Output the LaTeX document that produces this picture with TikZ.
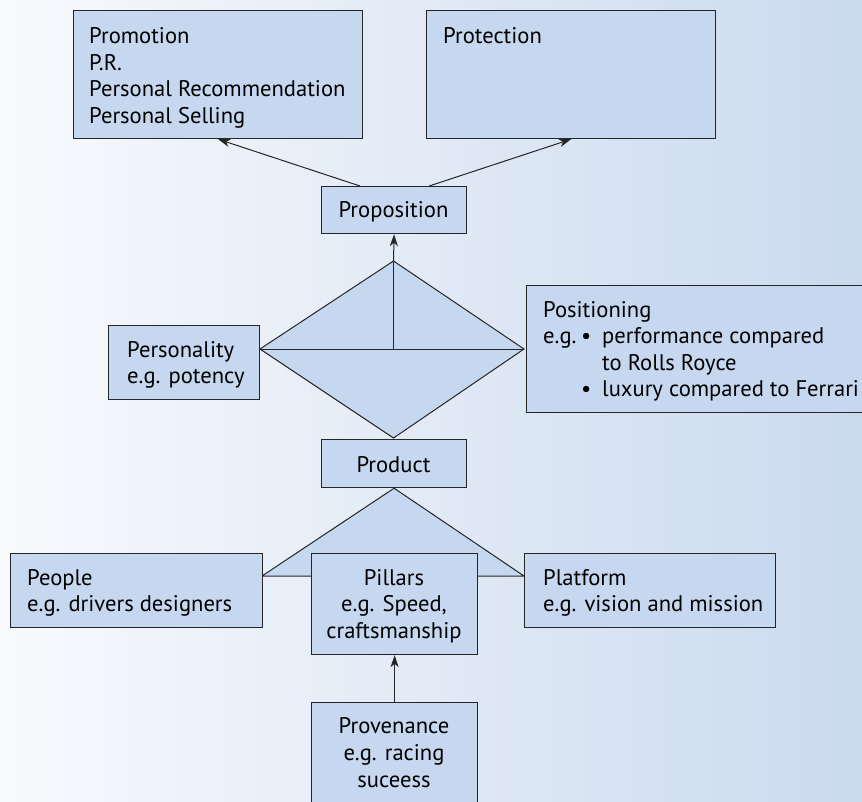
\documentclass[tikz,border=0pt]{standalone}
\usepackage{fontspec}
\setmainfont{PT Sans}
\usetikzlibrary{arrows.meta}
\definecolor{boxfill}{HTML}{C6D8EF}
\definecolor{bgleft}{HTML}{F8FAFD}
\definecolor{bgright}{HTML}{CADAEE}
\definecolor{edge}{HTML}{262626}
\begin{document}
\begin{tikzpicture}[x=1pt,y=-1pt,
  bx/.style={draw=edge, fill=boxfill, line width=1.2pt, inner sep=0pt, anchor=north west},
  tx/.style={inner sep=0pt, font=\fontsize{22.6}{27}\selectfont, text=black},
  lt/.style={tx, anchor=base west},
  ct/.style={tx, anchor=base},
  shape line/.style={draw=edge, line width=1pt, line join=miter},
  arr/.style={draw=edge, line width=1pt, -{Stealth[length=12pt,width=8pt,inset=3.5pt]}}]
\useasboundingbox (0,0) rectangle (862,801);
\clip (0,0) rectangle (862,801);
\shade[left color=bgleft, right color=bgright] (0,0) rectangle (862,801);

% boxes
\node[bx, minimum width=289pt, minimum height=128pt] (promo) at (73,10) {};
\node[bx, minimum width=289pt, minimum height=128pt] (protect) at (426,10) {};
\node[bx, minimum width=145pt, minimum height=47pt] (prop) at (321,186) {};
\node[bx, minimum width=151pt, minimum height=74pt] (person) at (108,325) {};
\node[bx, minimum width=345pt, minimum height=127pt] (posit) at (526,285) {};

% diamond
\coordinate (dtop) at (393.5,261);
\coordinate (dleft) at (260,349);
\coordinate (dright) at (524,349);
\coordinate (dbot) at (393.5,438);
\coordinate (dctr) at (393.5,349);
\fill[boxfill] (dtop) -- (dright) -- (dbot) -- (dleft) -- cycle;
\draw[shape line] (dtop) -- (dright) -- (dbot) -- (dleft) -- cycle;
\draw[shape line] (dleft) -- (dright);
\draw[shape line] (dtop) -- (dctr);

\node[bx, minimum width=145pt, minimum height=48pt] (product) at (321,439) {};

% triangle
\coordinate (tl) at (262,576);
\coordinate (tr) at (524,576);
\fill[boxfill] (product.south) -- (tr) -- (tl) -- cycle;
\draw[shape line] (product.south) -- (tr) -- (tl) -- cycle;

\node[bx, minimum width=252pt, minimum height=74pt] (people) at (10,553) {};
\node[bx, minimum width=166pt, minimum height=101pt] (pillars) at (311,553) {};
\node[bx, minimum width=251pt, minimum height=74pt] (platform) at (524,553) {};
\node[bx, minimum width=166pt, minimum height=110pt] (proven) at (311,702) {};

% arrows
\draw[arr] ([xshift=39pt]prop.north west) -- (promo.south);
\draw[arr] ([xshift=-38pt]prop.north east) -- (protect.south);
\draw[arr] (dtop) -- (prop.south);
\draw[arr] (proven.north) -- (pillars.south);

% texts
\node[lt] (t1) at (89,43) {Promotion};
\node[lt] (t2) at (89,70) {P.R.};
\node[lt] (t3) at (89,96.5) {Personal Recommendation};
\node[lt] (t4) at (89,123) {Personal Selling};
\node[lt] (t5) at (443,43) {Protection};
\node[ct] (t6) at (393.5,217) {Proposition};
\node[lt] (t7) at (127,357) {Personality};
\node[lt] (t8) at (127,383) {e.g. potency};
\node[lt] (t9) at (543,317) {Positioning};
\node[lt] (t10) at (543,343.5) {e.g.};
\node[lt] (t11) at (581,343.5) {•};
\node[lt] (t12) at (602,343.5) {performance compared};
\node[lt] (t13) at (602,370) {to Rolls Royce};
\node[lt] (t14) at (581,396.5) {•};
\node[lt] (t15) at (602,396.5) {luxury compared to Ferrari};
\node[ct] (t16) at (393.5,472) {Product};
\node[lt] (t17) at (27,585) {People};
\node[lt] (t18) at (27,611.5) {e.g. drivers designers};
\node[ct] (t19) at (394,585) {Pillars};
\node[ct] (t20) at (394,611.5) {e.g. Speed,};
\node[ct] (t21) at (394,638) {craftsmanship};
\node[lt] (t22) at (543,585) {Platform};
\node[lt] (t23) at (543,611.5) {e.g. vision and mission};
\node[ct] (t24) at (394,733) {Provenance};
\node[ct] (t25) at (394,760.5) {e.g. racing};
\node[ct] (t26) at (394,787) {suceess};
\end{tikzpicture}
\end{document}
